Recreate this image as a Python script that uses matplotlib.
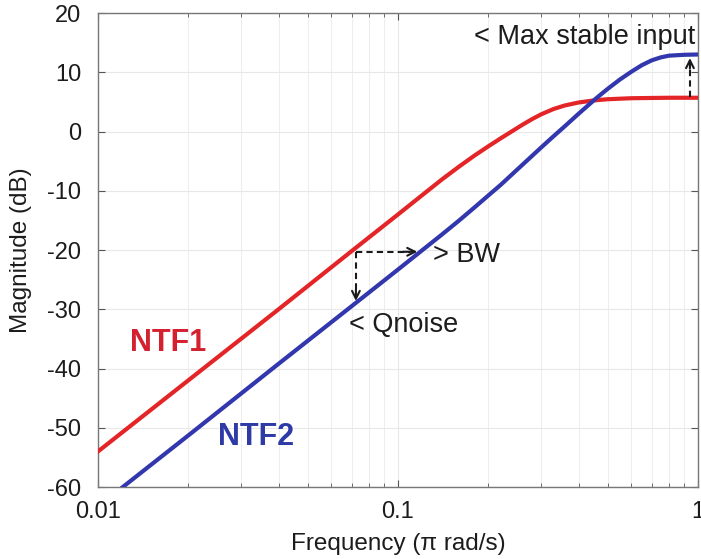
import matplotlib
matplotlib.use("Agg")
import matplotlib.pyplot as plt
import numpy as np

plt.rcParams['font.family'] = ['Liberation Sans', 'DejaVu Sans']
plt.rcParams['axes.unicode_minus'] = False

# magnitude responses
ntf1_freq = [0.01, 0.02, 0.04, 0.07, 0.1, 0.12, 0.14, 0.16, 0.18, 0.2,
             0.22, 0.24, 0.26, 0.28, 0.3, 0.33, 0.36, 0.4, 0.45, 0.5,
             0.6, 0.8, 1.0]
ntf1_db = [-54.0, -42.0, -30.0, -20.2, -14.0, -10.8, -8.1, -5.9, -4.05, -2.5,
           -1.15, 0.05, 1.15, 2.1, 2.9, 3.8, 4.4, 4.9, 5.25, 5.45,
           5.62, 5.7, 5.7]

ntf2_freq = [0.0121, 0.02, 0.04, 0.07, 0.1, 0.12, 0.14, 0.16, 0.18, 0.2,
             0.22, 0.25, 0.28, 0.3, 0.33, 0.36, 0.4, 0.43, 0.46, 0.5,
             0.55, 0.6, 0.65, 0.7, 0.75, 0.8, 0.9, 1.0]
ntf2_db = [-60.0, -51.3, -39.2, -29.5, -23.3, -20.1, -17.4, -15.0, -12.8, -10.8,
           -9.0, -6.4, -4.1, -2.7, -0.8, 0.9, 3.0, 4.4, 5.7, 7.2,
           8.8, 10.1, 11.2, 12.0, 12.5, 12.8, 12.95, 13.0]

yticks = [-60, -50, -40, -30, -20, -10, 0, 10, 20]
xticks = [0.01, 0.1, 1]
xticklabels = ['0.01', '0.1', '1']

red = '#e42528'
blue = '#3237ad'
txt = '#1c1c1c'

fig = plt.figure(figsize=(7.01, 5.59), dpi=100)
ax = fig.add_axes([0.1398, 0.1288, 0.8559, 0.8479])

ax.semilogx(ntf1_freq, ntf1_db, color=red, lw=3.0, solid_joinstyle='round', zorder=3)
ax.semilogx(ntf2_freq, ntf2_db, color=blue, lw=3.0, solid_joinstyle='round', zorder=3)

ax.set_xlim(0.01, 1)
ax.set_ylim(-60, 20)
ax.set_yticks(yticks)
ax.set_xticks(xticks)
ax.set_xticklabels(xticklabels)

ax.grid(True, which='major', color='#e8e8e8', lw=0.8)
ax.grid(True, which='minor', axis='x', color='#eeeeee', lw=0.8)
ax.set_axisbelow(True)

ax.tick_params(which='both', direction='in', top=True, right=True,
               color='#555555', labelsize=17, labelcolor=txt)
ax.tick_params(which='major', length=5)
ax.tick_params(which='minor', length=3)
ax.tick_params(axis='x', pad=10)
ax.tick_params(axis='y', pad=12)
ax.xaxis.set_minor_formatter(matplotlib.ticker.NullFormatter())
for s in ax.spines.values():
    s.set_color('#777777')
    s.set_linewidth(1.0)

ax.set_xlabel('Frequency (\u03c0 rad/s)', fontsize=17.5, color=txt, labelpad=7)
ax.set_ylabel('Magnitude (dB)', fontsize=17.5, color=txt, labelpad=11)

# curve labels
ax.text(0.0128, -35.7, 'NTF1', color='#d4202f', fontsize=22, fontweight='bold',
        ha='left', va='center')
ax.text(0.0251, -51.6, 'NTF2', color='#2e3aa5', fontsize=22, fontweight='bold',
        ha='left', va='center')

# dashed arrows marking the trade-offs
dash = dict(color='#1a1a1a', lw=1.5, ls=(0, (3, 2)))
ax.plot([0.0724, 0.110], [-20.3, -20.3], **dash, zorder=4)
ax.plot([0.0724, 0.0724], [-20.3, -27.6], **dash, zorder=4)
ax.plot([0.94, 0.94], [5.8, 11.9], **dash, zorder=4)
head = dict(arrowstyle='->', color='#1a1a1a', lw=1.5, mutation_scale=14,
            shrinkA=0, shrinkB=0)
ax.annotate('', xy=(0.116, -20.3), xytext=(0.104, -20.3), arrowprops=head, zorder=4)
ax.annotate('', xy=(0.0724, -28.6), xytext=(0.0724, -26.6), arrowprops=head, zorder=4)
ax.annotate('', xy=(0.94, 12.4), xytext=(0.94, 10.6), arrowprops=head, zorder=4)

ax.text(0.131, -20.8, '> BW', fontsize=19.5, color=txt, ha='left', va='center')
ax.text(0.0685, -32.7, '< Qnoise', fontsize=19.5, color=txt, ha='left', va='center')
ax.text(0.978, 16.0, '< Max stable input', fontsize=19.5, color=txt,
        ha='right', va='center')

fig.savefig('out.png', dpi=100)
